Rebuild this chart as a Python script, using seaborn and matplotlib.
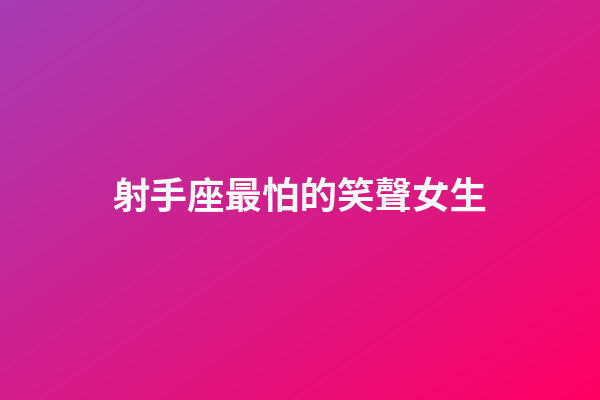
import numpy as np
import seaborn as sns
import matplotlib.pyplot as plt
from matplotlib.colors import LinearSegmentedColormap

# title text and gradient end colours
title = "射手座最怕的笑聲女生"
start_color = "#a63cb3"
end_color = "#ff0062"

sns.set_theme(style="white")
plt.rcParams['font.family'] = ['Noto Sans CJK TC', 'DejaVu Sans']

fig = plt.figure(figsize=(6, 4), dpi=100)
ax = fig.add_axes([0, 0, 1, 1])
ax.set_axis_off()

# diagonal gradient, top-left to bottom-right
xx, yy = np.meshgrid(np.linspace(0, 1, 600), np.linspace(0, 1, 400))
grad = (xx + yy) / 2
cmap = LinearSegmentedColormap.from_list("bg", [start_color, end_color])
ax.imshow(grad, cmap=cmap, aspect="auto", extent=[0, 600, 400, 0])
ax.set_xlim(0, 600)
ax.set_ylim(400, 0)

ax.text(300, 197, title, color="white", fontsize=27, fontweight="bold",
        ha="center", va="center")

fig.savefig("out.png", dpi=100)
